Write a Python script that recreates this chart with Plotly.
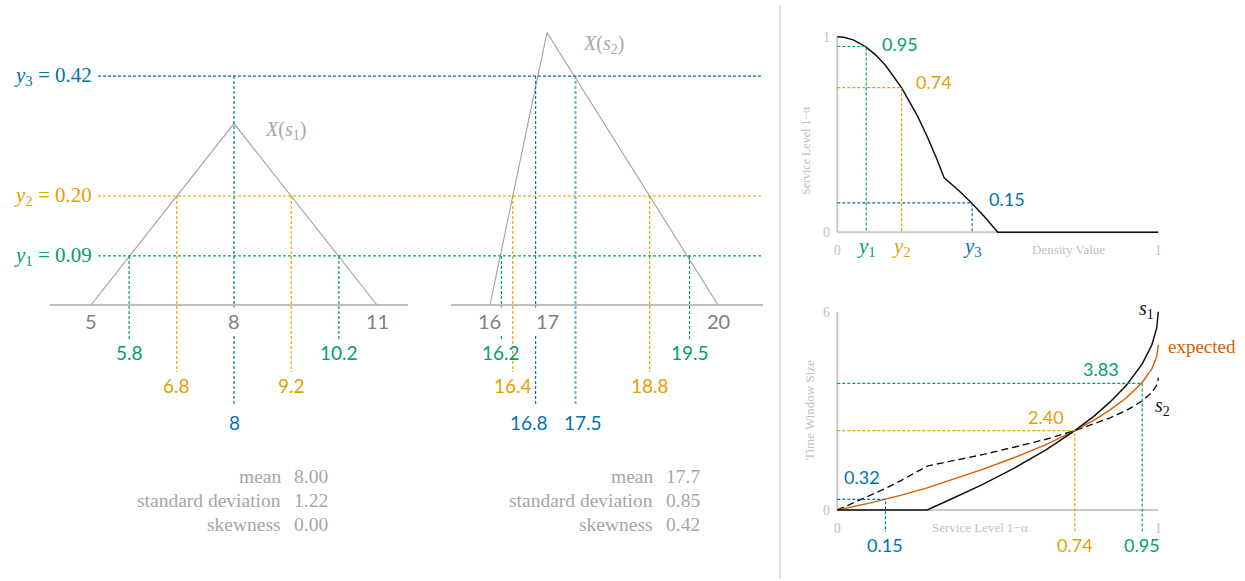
import plotly.graph_objects as go

# ---------------- data ----------------
# triangular densities of the two scenarios
s1_x = [5, 8, 11]
s1_pdf = [0, 0.333, 0]
s2_x = [16, 17, 20]
s2_pdf = [0, 0.5, 0]
s1_ticks = [5, 8, 11]
s2_ticks = [16, 17, 20]

# density cut levels y1, y2, y3 and where they cross each density
levels = [0.09, 0.20, 0.42]
level_ids = ["1", "2", "3"]
s1_cuts = [[5.8, 10.2], [6.8, 9.2], [8]]
s2_cuts = [[16.2, 19.5], [16.4, 18.8], [16.8, 17.5]]

# service level reached at each cut level, and the expected window size there
service_at_level = [0.95, 0.74, 0.15]
window_at_level = [3.83, 2.40, 0.32]

# summary statistics
stat_names = ["mean", "standard deviation", "skewness"]
s1_stats = ["8.00", "1.22", "0.00"]
s2_stats = ["17.7", "0.85", "0.42"]

# service level as a function of the density value
density_value = [0, 0.02, 0.05, 0.09, 0.12, 0.15, 0.20, 0.25, 0.28, 0.30, 0.31,
                 0.333, 0.38, 0.42, 0.46, 0.50, 1.0]
service_level = [1.0, 0.997, 0.984, 0.947, 0.906, 0.854, 0.740, 0.594, 0.490,
                 0.415, 0.375, 0.278, 0.211, 0.147, 0.077, 0.0, 0.0]

# time window size as a function of the service level
sl_grid = [0, 0.05, 0.10, 0.15, 0.20, 0.28, 0.35, 0.45, 0.55, 0.65, 0.74, 0.80,
           0.85, 0.90, 0.95, 0.98, 0.995, 0.999, 1.0]
tw_s1 = [0, 0, 0, 0, 0, 0, 0.31, 0.76, 1.26, 1.82, 2.40, 2.84, 3.27, 3.77, 4.42,
         5.00, 5.50, 5.78, 6.00]
tw_s2 = [0, 0.21, 0.42, 0.65, 0.90, 1.33, 1.47, 1.67, 1.90, 2.14, 2.40, 2.60,
         2.79, 3.01, 3.30, 3.56, 3.78, 3.90, 4.00]
tw_expected = [0, 0.10, 0.21, 0.33, 0.45, 0.67, 0.89, 1.22, 1.58, 1.98, 2.40,
               2.72, 3.03, 3.39, 3.86, 4.28, 4.64, 4.84, 5.00]

# ---------------- styling ----------------
W, H = 1245, 581


def fx(px):
    return px / W


def fy(py):
    return 1 - py / H


GREEN, ORANGE, BLUE, SKY, VERM = "#009E73", "#E69F00", "#0072B2", "#6AAED6", "#D55E00"
level_colors = [GREEN, ORANGE, BLUE]
GRAY_LINE, GRAY_TXT, LIGHT, AXIS = "#A6A6A6", "#7F7F7F", "#BFBFBF", "#C9C9C9"
SANS = "Lato, sans-serif"
NUM = "Lato, sans-serif"
SERIF = "Liberation Serif, serif"
DOT = "3px,2px"

# left panel vertical scale (pixels per density unit, baseline row)
BASE_PX, PX_PER_UNIT = 305, 545


def dens(py):
    return (BASE_PX - py) / PX_PER_UNIT


drop_px = [340, 372, 405]
label_px = [352, 385, 422]

# right panels horizontal scale
X0, XU = 837.3, 321.0
TOP_Y0, TOP_U = 232.3, 195.6
BOT_Y0, BOT_U = 510.0, 33.05


def sl_top(py):
    return (TOP_Y0 - py) / TOP_U


def tw_bot(py):
    return (BOT_Y0 - py) / BOT_U


fig = go.Figure()
shapes = []
anns = []


def ann(text, x, y, xref="paper", yref="paper", color=GRAY_TXT, size=18,
        family=NUM, xanchor="center", yanchor="middle", **kw):
    anns.append(dict(text=text, x=x, y=y, xref=xref, yref=yref, showarrow=False,
                     xanchor=xanchor, yanchor=yanchor,
                     font=dict(color=color, size=size, family=family), **kw))


# ---------------- left: the two densities ----------------
for xa, xs, ys in (("x", s1_x, s1_pdf), ("x2", s2_x, s2_pdf)):
    fig.add_trace(go.Scatter(x=xs, y=ys, xaxis=xa, yaxis="y", mode="lines",
                             line=dict(color=GRAY_LINE, width=1.2)))
    shapes.append(dict(type="line", xref=f"{xa} domain", x0=0, x1=1, yref="y",
                       y0=0, y1=0, line=dict(color=LIGHT, width=2), layer="below"))

# small sideways nudges so the two close labels under X(s2) do not collide
label_nudge = {16.8: -7, 17.5: 7}

for i, lvl in enumerate(levels):
    c = level_colors[i]
    shapes.append(dict(type="line", xref="paper", x0=fx(98), x1=fx(763), yref="y",
                       y0=lvl, y1=lvl, line=dict(color=c, width=1.2, dash=DOT)))
    ann(f"<i>y</i><sub>{level_ids[i]}</sub> = {lvl:.2f}", fx(94), lvl, yref="y",
        color=c, size=21, family=SERIF, xanchor="right")
    for xa, cuts in (("x", s1_cuts[i]), ("x2", s2_cuts[i])):
        for j, v in enumerate(cuts):
            light = xa == "x2" and i == 2 and j == 1
            fig.add_trace(go.Scatter(
                x=[v, v], y=[lvl, dens(drop_px[i])], xaxis=xa, yaxis="y", mode="lines",
                line=dict(color=SKY if light else c, width=2 if light else 1.2, dash=DOT)))
            ann(f"{v:g}", v, dens(label_px[i]), xref=xa, yref="y", color=c,
                size=19, family=SANS, xshift=label_nudge.get(v, 0) if xa == "x2" else 0)

for xa, ticks in (("x", s1_ticks), ("x2", s2_ticks)):
    for t in ticks:
        ann(str(t), t, dens(321), xref=xa, yref="y", color=GRAY_TXT, size=20,
            family=SANS, bgcolor="white")

ann("<i>X</i>(<i>s</i><sub>1</sub>)", 8, 0.333, xref="x", yref="y", color=GRAY_LINE,
    size=20, family=SERIF, xanchor="left", xshift=29, yshift=-7)
ann("<i>X</i>(<i>s</i><sub>2</sub>)", 17, 0.5, xref="x2", yref="y", color=GRAY_LINE,
    size=20, family=SERIF, xanchor="left", xshift=34, yshift=-12)

for k, name in enumerate(stat_names):
    yy = fy(476 + 24 * k)
    ann(name, fx(282.5), yy, color=GRAY_LINE, size=19.5, family=SERIF, xanchor="right")
    ann(s1_stats[k], fx(292), yy, color=GRAY_LINE, size=19.5, family=SERIF, xanchor="left")
    ann(name, fx(655), yy, color=GRAY_LINE, size=19.5, family=SERIF, xanchor="right")
    ann(s2_stats[k], fx(664), yy, color=GRAY_LINE, size=19.5, family=SERIF, xanchor="left")

# separator between the two halves
shapes.append(dict(type="line", xref="paper", yref="paper", x0=fx(780), x1=fx(780),
                   y0=fy(578), y1=fy(5), line=dict(color="#D9D9D9", width=1.5)))

# ---------------- top right: service level vs density value ----------------
for xa, ya, ytop in (("x3", "y3", 1), ("x4", "y4", 6)):
    shapes.append(dict(type="line", xref=xa, yref=ya, x0=0, x1=1, y0=0, y1=0,
                       line=dict(color=AXIS, width=2), layer="below"))
    shapes.append(dict(type="line", xref=xa, yref=ya, x0=0, x1=0, y0=0, y1=ytop,
                       line=dict(color=AXIS, width=2), layer="below"))

fig.add_trace(go.Scatter(x=density_value, y=service_level, xaxis="x3", yaxis="y3",
                         mode="lines", line=dict(color="#111111", width=1.5)))

top_shift = [(14, 2), (12, 6), (15, 4)]
for i, lvl in enumerate(levels):
    c = level_colors[i]
    sl = service_at_level[i]
    fig.add_trace(go.Scatter(x=[0, lvl, lvl], y=[sl, sl, 0], xaxis="x3", yaxis="y3",
                             mode="lines", line=dict(color=c, width=1.2, dash=DOT)))
    ann(f"{sl:.2f}", lvl, sl, xref="x3", yref="y3", color=c, size=18,
        xanchor="left", xshift=top_shift[i][0], yshift=top_shift[i][1])
    ann(f"<i>y</i><sub>{level_ids[i]}</sub>", lvl, fy(247), xref="x3", color=c,
        size=21, family=SERIF)

ann("Density Value", fx(1068), fy(249), color=LIGHT, size=13, family=SERIF)
ann("Service Level 1\u2212\u03b1", fx(806), fy(151), color=LIGHT, size=12,
    family=SERIF, textangle=-90)

# ---------------- bottom right: time window size vs service level ----------------
fig.add_trace(go.Scatter(x=sl_grid, y=tw_s2, xaxis="x4", yaxis="y4", mode="lines",
                         line=dict(color="#111111", width=1.4, dash="7px,4px")))
fig.add_trace(go.Scatter(x=sl_grid, y=tw_expected, xaxis="x4", yaxis="y4", mode="lines",
                         line=dict(color=VERM, width=1.4)))
fig.add_trace(go.Scatter(x=sl_grid, y=tw_s1, xaxis="x4", yaxis="y4", mode="lines",
                         line=dict(color="#111111", width=1.5)))

bot_shift = [(-21, 14), (-9, 14), (-3, 22)]
for i, sl in enumerate(service_at_level):
    c = level_colors[i]
    tw = window_at_level[i]
    fig.add_trace(go.Scatter(x=[0, sl, sl], y=[tw, tw, tw_bot(532)], xaxis="x4",
                             yaxis="y4", mode="lines",
                             line=dict(color=c, width=1.2, dash=DOT)))
    ann(f"{tw:.2f}", sl, tw, xref="x4", yref="y4", color=c, size=18,
        xanchor="right", xshift=bot_shift[i][0], yshift=bot_shift[i][1])
    ann(f"{sl:.2f}", sl, fy(545), xref="x4", color=c, size=18)

ann("<i>s</i><sub>1</sub>", 1, 6, xref="x4", yref="y4", color="#111111", size=20,
    family=SERIF, xanchor="right", xshift=-2, yshift=2)
ann("expected", 1, 5, xref="x4", yref="y4", color=VERM, size=19, family=SERIF,
    xanchor="left", xshift=8, yshift=-2)
ann("<i>s</i><sub>2</sub>", 1, 4, xref="x4", yref="y4", color="#111111", size=20,
    family=SERIF, xshift=4, yshift=-29)

ann("Service Level 1\u2212\u03b1", fx(980), fy(527), color=LIGHT, size=13, family=SERIF)
ann("Time Window Size", fx(809), fy(410), color=LIGHT, size=13, family=SERIF,
    textangle=-90)

# ---------------- layout ----------------
hidden = dict(visible=False, showgrid=False, zeroline=False)
right_x_domain = [fx(X0 - 0.02 * XU), fx(X0 + 1.02 * XU)]
tick_font = dict(family=SERIF, size=14, color=LIGHT)
small_axis = dict(showgrid=False, zeroline=False, showline=False, ticks="",
                  tickfont=tick_font)

fig.update_layout(
    width=W, height=H, autosize=False,
    margin=dict(l=0, r=0, t=0, b=0),
    paper_bgcolor="white", plot_bgcolor="white",
    showlegend=False, hovermode=False,
    xaxis=dict(domain=[fx(50), fx(408)], range=[4.14, 11.65], anchor="y", **hidden),
    xaxis2=dict(domain=[fx(451), fx(763)], range=[15.316, 20.789], anchor="y", **hidden),
    yaxis=dict(domain=[fy(440), fy(0)], range=[dens(440), dens(0)], anchor="x", **hidden),
    xaxis3=dict(domain=right_x_domain, range=[-0.02, 1.02], anchor="free",
                position=fy(240), tickvals=[0, 1], **small_axis),
    yaxis3=dict(domain=[fy(240), fy(20)], range=[sl_top(240), sl_top(20)], anchor="x3",
                tickvals=[0, 1], **small_axis),
    xaxis4=dict(domain=right_x_domain, range=[-0.02, 1.02], anchor="free",
                position=fy(518), tickvals=[0, 1], **small_axis),
    yaxis4=dict(domain=[fy(534), fy(300)], range=[tw_bot(534), tw_bot(300)], anchor="x4",
                tickvals=[0, 6], **small_axis),
    shapes=shapes,
    annotations=anns,
)

fig.write_html("out.html")
